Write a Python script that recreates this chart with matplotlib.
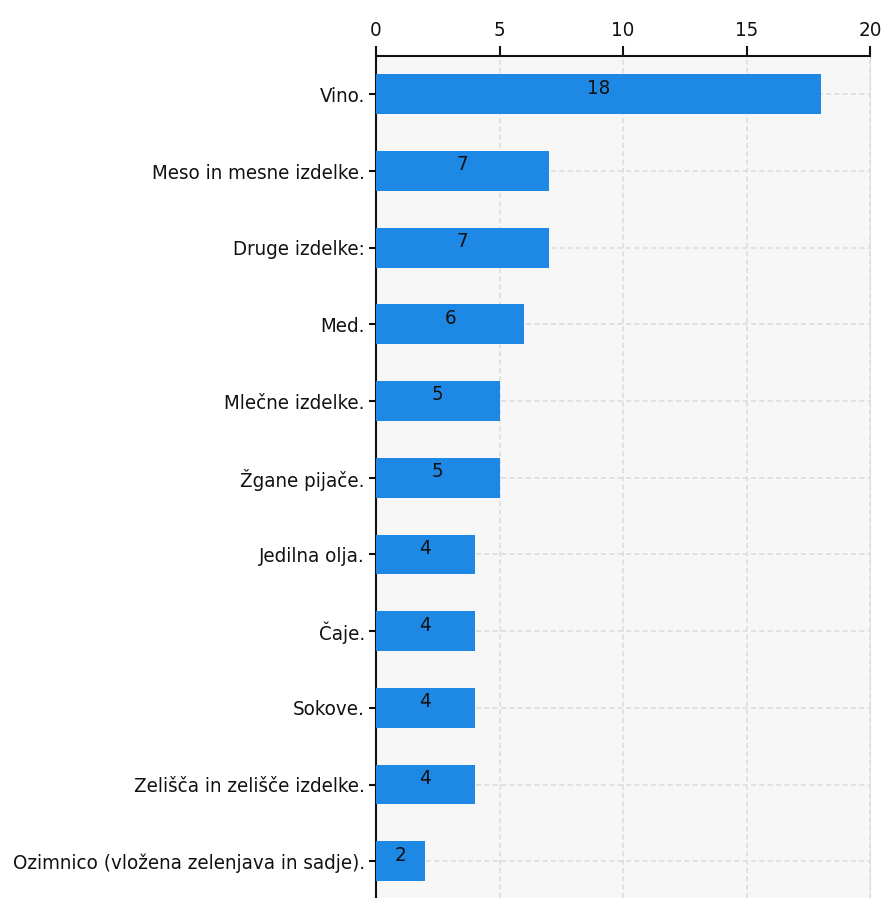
import matplotlib
matplotlib.use("Agg")
import matplotlib.pyplot as plt
from matplotlib import font_manager

categories = ["Vino.", "Meso in mesne izdelke.", "Druge izdelke:", "Med.",
              "Mlečne izdelke.", "Žgane pijače.", "Jedilna olja.", "Čaje.",
              "Sokove.", "Zelišča in zelišče izdelke.",
              "Ozimnico (vložena zelenjava in sadje)."]
values = [18, 7, 7, 6, 5, 5, 4, 4, 4, 4, 2]
xticks = [0, 5, 10, 15, 20]

cond = any(f.name == "DejaVu Sans" and str(f.stretch) == "condensed"
           for f in font_manager.fontManager.ttflist)
plt.rcParams["font.family"] = ["DejaVu Sans"]
if cond:
    STRETCH = "condensed"
    FS = 14.7
else:
    STRETCH = "normal"
    FS = 13.2

W, H = 883, 898
fig = plt.figure(figsize=(W / 100, H / 100), dpi=100)
ax = fig.add_axes([376 / W, 0, (870 - 376) / W, 1 - 56 / H])
ax.set_facecolor("#f7f7f7")

ypos = list(range(len(categories)))
ax.barh(ypos, values, height=0.52, color="#1e88e5", zorder=3)
for y, v in zip(ypos, values):
    ax.text(v / 2, y - 0.08, str(v), ha="center", va="center",
            fontsize=FS, fontstretch=STRETCH, color="#111111", zorder=4)

ax.set_xlim(0, 20)
ax.set_ylim(10.48, -0.5)
ax.set_xticks(xticks)
ax.set_xticklabels([str(t) for t in xticks], fontstretch=STRETCH)
ax.set_yticks(ypos)
ax.set_yticklabels(categories, fontstretch=STRETCH)
ax.xaxis.tick_top()
ax.tick_params(axis="x", direction="out", length=7.5, width=1.5, labelsize=FS,
               pad=4, colors="#111111")
ax.tick_params(axis="y", direction="out", length=5, width=1.5, labelsize=FS,
               pad=3, colors="#111111")
ax.grid(True, color="#dddddd", linestyle=(0, (3, 2)), linewidth=1.2, zorder=0)

ax.spines["bottom"].set_visible(False)
ax.spines["right"].set_color("#dddddd")
ax.spines["left"].set_linewidth(1.5)
ax.spines["top"].set_linewidth(1.5)
ax.spines["left"].set_color("#111111")
ax.spines["top"].set_color("#111111")

fig.savefig("out.png", dpi=100)
